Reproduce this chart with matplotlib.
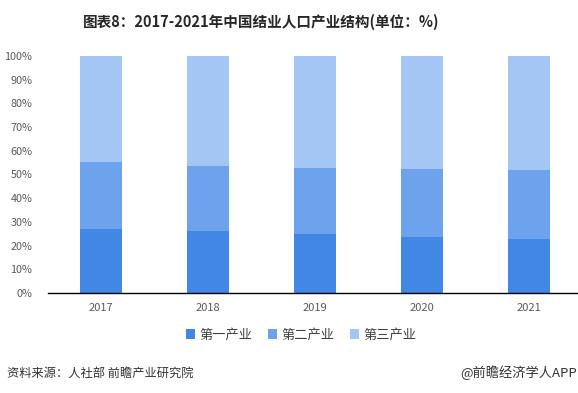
import matplotlib
matplotlib.use("Agg")
import matplotlib.pyplot as plt
import numpy as np

plt.rcParams['font.family'] = ['Noto Sans CJK SC', 'DejaVu Sans']

years = ["2017", "2018", "2019", "2020", "2021"]
primary = [27.0, 26.1, 25.1, 23.6, 22.9]
secondary = [28.1, 27.6, 27.5, 28.7, 29.1]
tertiary = [44.9, 46.3, 47.4, 47.7, 48.0]
series_names = ["第一产业", "第二产业", "第三产业"]
colors = ["#4287E3", "#6CA3EC", "#A3C6F4"]

W, H = 578, 393
fig = plt.figure(figsize=(W / 100, H / 100), dpi=100)
ax = fig.add_axes([47.5 / W, 1 - 293 / H, 535 / W, 237 / H])

x = np.arange(len(years))
bw = 0.39
b1 = ax.bar(x, primary, bw, color=colors[0], label=series_names[0])
b2 = ax.bar(x, secondary, bw, bottom=primary, color=colors[1], label=series_names[1])
bottom3 = np.array(primary) + np.array(secondary)
b3 = ax.bar(x, tertiary, bw, bottom=bottom3, color=colors[2], label=series_names[2])

ax.set_xlim(-0.5, 4.5)
ax.set_ylim(0, 100)
ax.set_yticks(np.arange(0, 101, 10))
ax.set_yticklabels([f"{v}%" for v in range(0, 101, 10)])
ax.set_xticks(x)
ax.set_xticklabels(years)
for s in ["top", "right", "left"]:
    ax.spines[s].set_visible(False)
ax.spines["bottom"].set_color("#000000")
ax.spines["bottom"].set_linewidth(1.0)
ax.tick_params(axis="y", length=0, labelsize=7.8, colors="#595959", pad=11)
ax.tick_params(axis="x", length=0, labelsize=8, colors="#595959", pad=7)

fig.text(261 / W, 1 - 22 / H, "图表8：2017-2021年中国结业人口产业结构(单位：%)",
         ha="center", va="center", fontsize=10.5, fontweight="bold", color="#262626")

leg = fig.legend(handles=[b1, b2, b3], labels=series_names, loc="center",
                 bbox_to_anchor=(301 / W, 1 - 335 / H), ncol=3, frameon=False,
                 fontsize=9.5, handlelength=0.7, handleheight=0.7,
                 handletextpad=0.3, columnspacing=1.2)
for t in leg.get_texts():
    t.set_color("#404040")

fig.text(7 / W, 1 - 373 / H, "资料来源：人社部 前瞻产业研究院", ha="left", va="center",
         fontsize=8.8, color="#333333")
fig.text(577 / W, 1 - 373 / H, "@前瞻经济学人APP", ha="right", va="center",
         fontsize=9.5, color="#333333")

fig.savefig("out.png", dpi=100)
